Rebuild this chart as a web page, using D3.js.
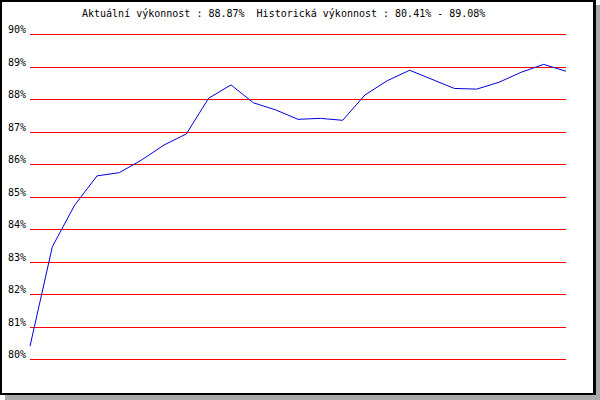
<!DOCTYPE html>
<html>
<head>
<meta charset="utf-8">
<script src="https://cdn.jsdelivr.net/npm/d3@7"></script>
<style>
  body { margin: 0; background: #fff; }
  svg text { font-family: "DejaVu Sans Mono", monospace; font-size: 10px; fill: #000; white-space: pre; }
</style>
</head>
<body>
<svg id="chart" width="600" height="400"></svg>
<script>
// performance history (%), one value per sample
const values = [80.41, 83.47, 84.75, 85.65, 85.75, 86.14, 86.6, 86.94, 88.04, 88.45,
                87.9, 87.68, 87.39, 87.42, 87.36, 88.14, 88.58, 88.9, 88.62, 88.34,
                88.32, 88.53, 88.84, 89.08, 88.87];
const yTicks = [80, 81, 82, 83, 84, 85, 86, 87, 88, 89, 90];
const title = 'Aktuální výkonnost : 88.87%  Historická výkonnost : 80.41% - 89.08%';

const svg = d3.select('#chart');

// frame with drop shadow
svg.append('rect').attr('x', 5).attr('y', 5).attr('width', 595).attr('height', 395).attr('fill', '#aaaaaa');
svg.append('rect').attr('x', 0).attr('y', 0).attr('width', 596).attr('height', 395).attr('fill', '#000');
svg.append('rect').attr('x', 2).attr('y', 2).attr('width', 591).attr('height', 391).attr('fill', '#fff');

const x = d3.scaleLinear().domain([0, values.length - 1]).range([30, 566]);
const y = d3.scaleLinear().domain([80, 90]).range([359.5, 34.5]);

svg.append('text')
    .attr('x', 82)
    .attr('y', 17)
    .text(title);

// grid lines + labels
svg.selectAll('.grid')
    .data(yTicks)
    .enter()
    .append('line')
    .attr('class', 'grid')
    .attr('x1', 30)
    .attr('x2', 566)
    .attr('y1', d => y(d))
    .attr('y2', d => y(d))
    .attr('stroke', '#ff0000')
    .attr('stroke-width', 1)
    .attr('shape-rendering', 'crispEdges');

svg.selectAll('.ylab')
    .data(yTicks)
    .enter()
    .append('text')
    .attr('class', 'ylab')
    .attr('x', 26)
    .attr('y', d => y(d) - 1.5)
    .attr('text-anchor', 'end')
    .text(d => d + '%');

const line = d3.line()
    .x((d, i) => x(i))
    .y(d => y(d));

svg.append('path')
    .datum(values)
    .attr('d', line)
    .attr('fill', 'none')
    .attr('stroke', '#0000dd')
    .attr('stroke-width', 1);
</script>
</body>
</html>
